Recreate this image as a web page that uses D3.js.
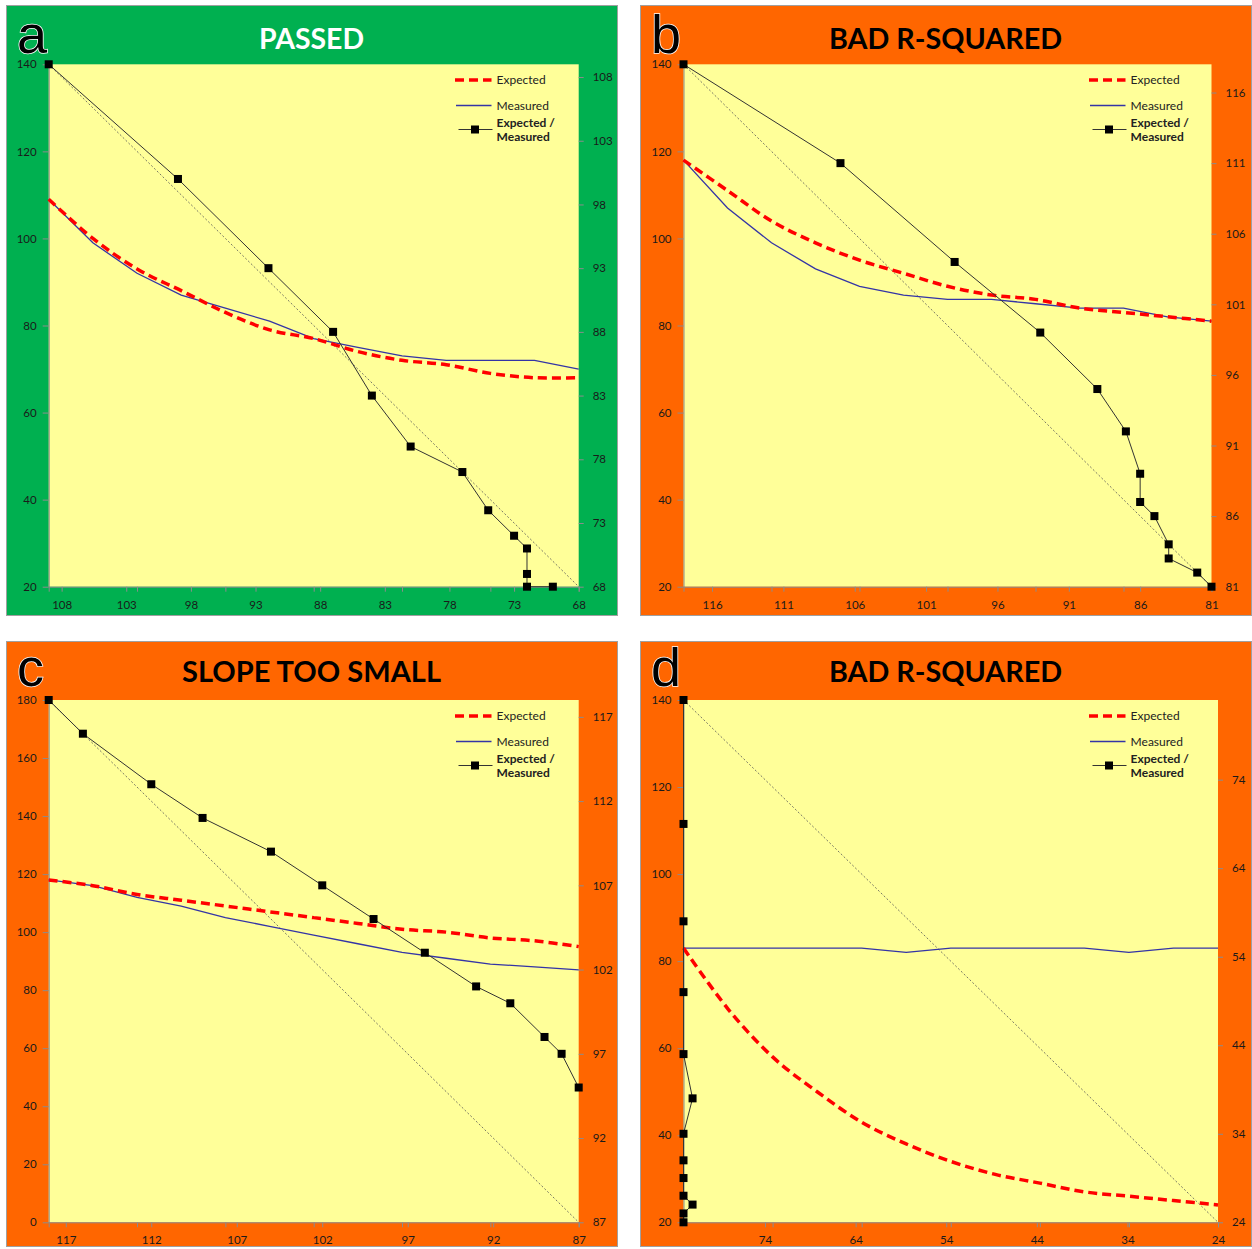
<!DOCTYPE html>
<html><head><meta charset="utf-8">
<script src="https://cdn.jsdelivr.net/npm/d3@7"></script>
<style>body{margin:0;background:#fff;} svg{display:block}</style>
</head><body><svg id="chart" width="1252" height="1249"></svg>
<script>
// ---------- data ----------
const categories = [1,2,3,4,5,6,7,8,9,10,11,12,13];
const panelLetters = ["a","b","c","d"];
const titles = ["PASSED","BAD R-SQUARED","SLOPE TOO SMALL","BAD R-SQUARED"];
const legendLabels = ["Expected","Measured","Expected /","Measured"];

const expectedA = [109,100,93,88,83,79,77,74,72,71,69,68,68];
const measuredA = [109,99,92,87,84,81,77,75,73,72,72,72,70];
const expectedB = [118,111,104,99,95,92,89,87,86,84,83,82,81];
const measuredB = [118,107,99,93,89,87,86,86,85,84,84,82,81];
const expectedC = [118,116,113,111,109,107,105,103,101,100,98,97,95];
const measuredC = [118,116,112,109,105,102,99,96,93,91,89,88,87];
const expectedD = [83,69,58,50,43,38,34,31,29,27,26,25,24];
const measuredD = [83,83,83,83,83,82,83,83,83,83,82,83,83];

const leftTicksA = [20,40,60,80,100,120,140];
const leftTicksB = [20,40,60,80,100,120,140];
const leftTicksC = [0,20,40,60,80,100,120,140,160,180];
const leftTicksD = [20,40,60,80,100,120,140];

const secTicksA = [108,103,98,93,88,83,78,73,68];
const secTicksB = [116,111,106,101,96,91,86,81];
const secTicksC = [117,112,107,102,97,92,87];
const secTicksD = [74,64,54,44,34,24];

const secRangeA = [68,109];
const secRangeB = [81,118];
const secRangeC = [87,118];
const secRangeD = [24,83];

// ---------- layout / style ----------
const panels = [
  {letter:panelLetters[0], title:titles[0], titleColor:"#ffffff", bg:"#00B050", box:[6,5,611,610], plot:[48.7,64.3,578.7,586.7],
   expected:expectedA, measured:measuredA, leftTicks:leftTicksA, secTicks:secTicksA, secRange:secRangeA, titleLen:105, base:49},
  {letter:panelLetters[1], title:titles[1], titleColor:"#000000", bg:"#FF6600", box:[640,5,611,610], plot:[683.5,64.3,1211.5,586.7],
   expected:expectedB, measured:measuredB, leftTicks:leftTicksB, secTicks:secTicksB, secRange:secRangeB, titleLen:233, base:49},
  {letter:panelLetters[2], title:titles[2], titleColor:"#000000", bg:"#FF6600", box:[6,641,611,605], plot:[48.7,700,578.7,1222.3],
   expected:expectedC, measured:measuredC, leftTicks:leftTicksC, secTicks:secTicksC, secRange:secRangeC, titleLen:259, base:46},
  {letter:panelLetters[3], title:titles[3], titleColor:"#000000", bg:"#FF6600", box:[640,641,611,605], plot:[683.5,700,1218,1222.3],
   expected:expectedD, measured:measuredD, leftTicks:leftTicksD, secTicks:secTicksD, secRange:secRangeD, titleLen:233, base:46}
];

const svg = d3.select("#chart");
const tickFont = "Lato, 'Open Sans', sans-serif";

function styleAxis(sel){
  sel.selectAll("path.domain").attr("stroke","#8c8c8c").attr("stroke-width",1);
  sel.selectAll(".tick line").attr("stroke","#8c8c8c");
  sel.selectAll(".tick text").attr("fill","#1a1a1a").style("font-family",tickFont).style("font-size","11.5px");
}

panels.forEach(p => {
  const g = svg.append("g");
  const [bx,by,bw,bh] = p.box;
  const R = bx + bw;
  g.append("rect").attr("x",bx+0.5).attr("y",by+0.5).attr("width",bw).attr("height",bh)
    .attr("fill",p.bg).attr("stroke","#a0a0a0").attr("stroke-width",1);

  const [l,t,r,b] = p.plot;
  g.append("rect").attr("x",l).attr("y",t).attr("width",r-l).attr("height",b-t).attr("fill","#FFFF99");

  // title & letter
  g.append("text").attr("x",bx+bw/2).attr("y",by+p.base-6+0.5).attr("text-anchor","middle")
    .attr("textLength",p.titleLen).attr("lengthAdjust","spacingAndGlyphs")
    .style("font-family","Lato, 'Open Sans', sans-serif").style("font-weight","bold").style("font-size","28.5px")
    .attr("fill",p.titleColor).text(p.title);
  g.append("text").attr("x",bx+11).attr("y",by+p.base-1)
    .style("font-family","'Liberation Sans', Arial, sans-serif").style("font-size","54px")
    .attr("fill","#000").attr("stroke","#fff").attr("stroke-width",1.5).attr("paint-order","stroke")
    .text(p.letter);

  // scales
  const xCat = d3.scalePoint().domain(categories).range([l,r]);
  const yLeft = d3.scaleLinear().domain(d3.extent(p.leftTicks)).range([b,t]);
  const xSec = d3.scaleLinear().domain([p.secRange[1], p.secRange[0]]).range([l,r]);
  const ySec = d3.scaleLinear().domain(p.secRange).range([b,t]);

  // axes
  const ax1 = g.append("g").attr("transform",`translate(${l},0)`)
    .call(d3.axisLeft(yLeft).tickValues(p.leftTicks).tickSize(6).tickPadding(6).tickSizeOuter(0));
  styleAxis(ax1);
  const ax2 = g.append("g").attr("transform",`translate(0,${b})`)
    .call(d3.axisBottom(xCat).tickValues(categories.filter((c,i)=>i%2===0)).tickFormat("").tickSize(5).tickSizeOuter(0));
  styleAxis(ax2);
  const ax3 = g.append("g").attr("transform",`translate(0,${b})`)
    .call(d3.axisBottom(xSec).tickValues(p.secTicks).tickSize(5).tickPadding(9).tickSizeOuter(0));
  ax3.select("path.domain").remove();
  styleAxis(ax3);
  const ax4 = g.append("g").attr("transform",`translate(${r},0)`)
    .call(d3.axisRight(ySec).tickValues(p.secTicks).tickSize(5).tickPadding(9).tickSizeOuter(0));
  ax4.select("path.domain").remove();
  styleAxis(ax4);

  // identity line
  g.append("line")
    .attr("x1",xSec(p.secRange[1])).attr("y1",ySec(p.secRange[1]))
    .attr("x2",xSec(p.secRange[0])).attr("y2",ySec(p.secRange[0]))
    .attr("stroke","#555").attr("stroke-width",0.8).attr("stroke-dasharray","2,2");

  // measured line
  g.append("path").datum(p.measured)
    .attr("d",d3.line().x((d,i)=>xCat(categories[i])).y(d=>yLeft(d)))
    .attr("fill","none").attr("stroke","#3434a6").attr("stroke-width",1.3);
  // expected line
  g.append("path").datum(p.expected)
    .attr("d",d3.line().curve(d3.curveCardinal.tension(0)).x((d,i)=>xCat(categories[i])).y(d=>yLeft(d)))
    .attr("fill","none").attr("stroke","#ff0000").attr("stroke-width",3.5).attr("stroke-dasharray","9,5");

  // expected / measured scatter
  const pts = p.measured.map((m,i)=>[m,p.expected[i]]);
  g.append("path").datum(pts)
    .attr("d",d3.line().x(d=>xSec(d[0])).y(d=>ySec(d[1])))
    .attr("fill","none").attr("stroke","#333").attr("stroke-width",1);
  g.selectAll("rect.mk").data(pts).enter().append("rect").attr("class","mk")
    .attr("x",d=>xSec(d[0])-4).attr("y",d=>ySec(d[1])-4).attr("width",8).attr("height",8).attr("fill","#000");

  // legend
  const lg = g.append("g");
  lg.append("line").attr("x1",R-162).attr("x2",R-125.5).attr("y1",by+75).attr("y2",by+75)
    .attr("stroke","#ff0000").attr("stroke-width",3.5).attr("stroke-dasharray","9,5");
  lg.append("line").attr("x1",R-161).attr("x2",R-125.5).attr("y1",by+100.5).attr("y2",by+100.5)
    .attr("stroke","#3434a6").attr("stroke-width",1.3);
  lg.append("line").attr("x1",R-158.5).attr("x2",R-124.5).attr("y1",by+124.5).attr("y2",by+124.5)
    .attr("stroke","#333").attr("stroke-width",1);
  lg.append("rect").attr("x",R-146).attr("y",by+120.5).attr("width",8).attr("height",8).attr("fill","#000");
  const ly = [75,100.5,117.5,131.5];
  legendLabels.forEach((txt,i)=>{
    lg.append("text").attr("x",R-120.4).attr("y",by+ly[i]).attr("dy","0.36em")
      .style("font-family",tickFont).style("font-size","12px").style("font-weight", i>=2 ? "bold" : "normal")
      .attr("fill","#222").text(txt);
  });
});
</script></body></html>
